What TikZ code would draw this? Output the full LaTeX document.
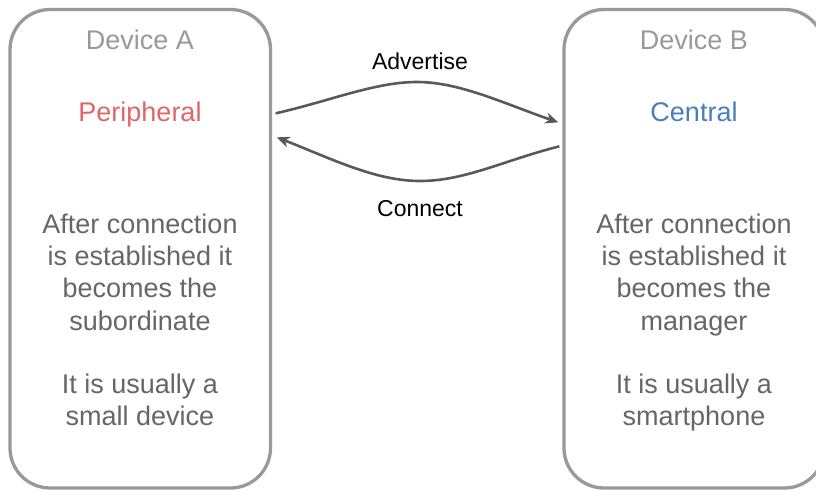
\documentclass[tikz,border=0pt]{standalone}
\usepackage{fontspec}
\setmainfont{Liberation Sans}
\usetikzlibrary{arrows.meta,calc}
\definecolor{boxgray}{HTML}{999999}
\definecolor{titlegray}{HTML}{999999}
\definecolor{bodygray}{HTML}{666666}
\definecolor{perired}{HTML}{E06666}
\definecolor{centblue}{HTML}{4A7EBB}
\definecolor{arrowgray}{HTML}{595959}
\tikzset{
  devbox/.style={draw=boxgray, line width=3.3pt, rectangle, rounded corners=40pt,
    minimum width=260.5pt, minimum height=478.5pt, inner sep=0pt},
  devtitle/.style={font=\fontsize{27}{32}\selectfont, text=titlegray, anchor=base, inner sep=0pt},
  roletext/.style={font=\fontsize{27}{32}\selectfont, anchor=base, inner sep=0pt},
  bodytext/.style={font=\fontsize{27}{32.3}\selectfont, text=bodygray, align=center, anchor=base, inner sep=0pt},
  flowlabel/.style={font=\fontsize{23}{27}\selectfont, text=black, anchor=base, inner sep=0pt},
  flowarrow/.style={draw=arrowgray, line width=2.6pt, -{Stealth[length=13pt,width=11pt,inset=4pt]}}
}
\begin{document}
\begin{tikzpicture}[x=1pt,y=-1pt]
\useasboundingbox (0,0) rectangle (816,492);
\clip (0,0) rectangle (816,492);
\node[devbox] (A) at (140.25,248.75) {};
\node[devbox] (B) at (694.25,248.75) {};
\node[devtitle] (Atitle) at (140,49.3) {Device A};
\node[devtitle] (Btitle) at (694,49.3) {Device B};
\node[roletext, text=perired] (Arole) at (140,121.7) {Peripheral};
\node[roletext, text=centblue] (Brole) at (694,121.7) {Central};
% base anchor of a multi-line node = baseline of its last line
\node[bodytext] (Abody1) at (140,330) {After connection\\is established it\\becomes the\\subordinate};
\node[bodytext] (Abody2) at (140,425.3) {It is usually a\\small device};
\node[bodytext] (Bbody1) at (694,330) {After connection\\is established it\\becomes the\\manager};
\node[bodytext] (Bbody2) at (694,425.3) {It is usually a\\smartphone};
\coordinate (advS) at ($(A.north east)+(3.5,105.5)$);
\coordinate (advE) at ($(B.north west)+(-4,114.5)$);
\coordinate (conS) at ($(B.north west)+(-3,138.5)$);
\coordinate (conE) at ($(A.north east)+(4.5,129.5)$);
\draw[flowarrow] (advS) .. controls (330,101) and (375,82) .. (417,82)
  .. controls (460,82) and (505,104) .. (advE);
\draw[flowarrow] (conS) .. controls (505,160) and (465,181) .. (420,181)
  .. controls (375,181) and (330,158) .. (conE);
\node[flowlabel] (adv) at (420,69.5) {Advertise};
\node[flowlabel] (con) at (420,216.7) {Connect};
\end{tikzpicture}
\end{document}
